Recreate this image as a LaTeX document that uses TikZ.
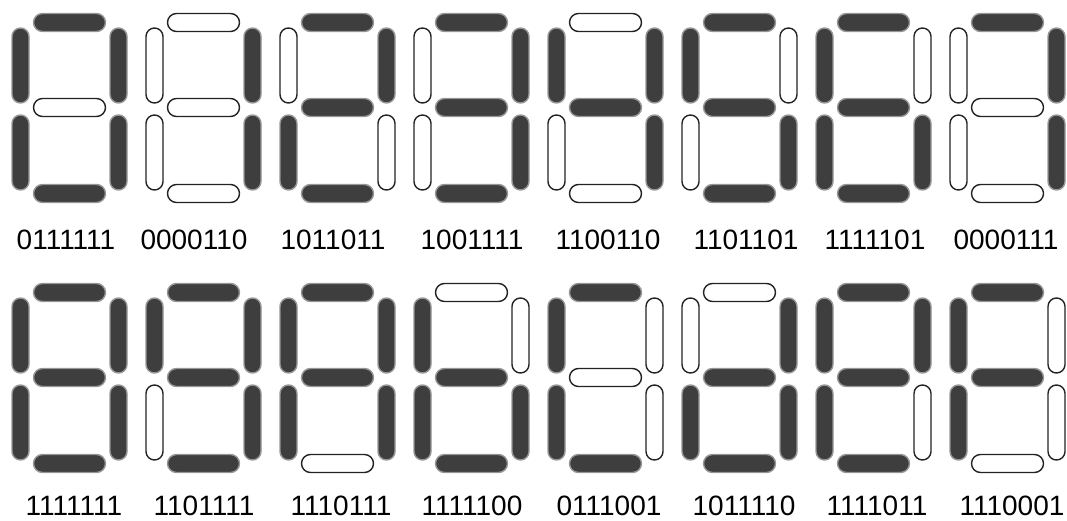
\documentclass[tikz,border=0pt]{standalone}
\usepackage{fontspec}
\setmainfont{Liberation Sans}
\usetikzlibrary{shapes.misc}
\definecolor{segdark}{RGB}{62,62,62}
\definecolor{seggray}{RGB}{150,150,150}
\definecolor{segline}{RGB}{35,35,35}
\newcommand\labelfont{\fontsize{28}{31}\selectfont}
\tikzset{
  seg/.style={rounded rectangle, inner sep=0pt, outer sep=0pt, line width=1.4pt},
  segh/.style={seg, minimum width=72pt, minimum height=18pt},
  segv/.style={seg, rotate=90, minimum width=75pt, minimum height=17pt},
  segon/.style={fill=segdark, draw=seggray},
  segoff/.style={fill=white, draw=segline},
  bit1/.style={segon},
  bit0/.style={segoff},
  lbl/.style={font=\labelfont, inner sep=0pt, anchor=base, text=black}
}
\newcommand\digitdraw[4]{%
  \def\dgname{#1}\def\dgx{#2}\def\dgy{#3}%
  \dgparse#4\relax}
\def\dgparse#1#2#3#4#5#6#7\relax{%
  \node[segh, bit#7] (\dgname-a) at (\dgx, \dgy) {};
  \node[segv, bit#6] (\dgname-b) at (\dgx+49, \dgy+43) {};
  \node[segv, bit#5] (\dgname-c) at (\dgx+49, \dgy+130) {};
  \node[segh, bit#4] (\dgname-d) at (\dgx, \dgy+171) {};
  \node[segv, bit#3] (\dgname-e) at (\dgx-49, \dgy+130) {};
  \node[segv, bit#2] (\dgname-f) at (\dgx-49, \dgy+43) {};
  \node[segh, bit#1] (\dgname-g) at (\dgx, \dgy+85) {};
}
\begin{document}
\begin{tikzpicture}[x=1pt, y=-1pt]
\useasboundingbox (0,0) rectangle (1067,521);
% row 1
\digitdraw{d0}{69.5}{22.5}{0111111}
\digitdraw{d1}{203.5}{22.5}{0000110}
\digitdraw{d2}{337.5}{22.5}{1011011}
\digitdraw{d3}{471.5}{22.5}{1001111}
\digitdraw{d4}{605.5}{22.5}{1100110}
\digitdraw{d5}{739.5}{22.5}{1101101}
\digitdraw{d6}{873.5}{22.5}{1111101}
\digitdraw{d7}{1007.5}{22.5}{0000111}
% row 2
\digitdraw{d8}{69.5}{292.5}{1111111}
\digitdraw{d9}{203.5}{292.5}{1101111}
\digitdraw{dA}{337.5}{292.5}{1110111}
\digitdraw{dB}{471.5}{292.5}{1111100}
\digitdraw{dC}{605.5}{292.5}{0111001}
\digitdraw{dD}{739.5}{292.5}{1011110}
\digitdraw{dE}{873.5}{292.5}{1111011}
\digitdraw{dF}{1007.5}{292.5}{1110001}
% labels
\node[lbl] (l0) at (66,250) {0111111};
\node[lbl] (l1) at (194,250) {0000110};
\node[lbl] (l2) at (333,250) {1011011};
\node[lbl] (l3) at (472,250) {1001111};
\node[lbl] (l4) at (608,250) {1100110};
\node[lbl] (l5) at (746,250) {1101101};
\node[lbl] (l6) at (875,250) {1111101};
\node[lbl] (l7) at (1006,250) {0000111};
\node[lbl] (l8) at (74,515) {1111111};
\node[lbl] (l9) at (204,515) {1101111};
\node[lbl] (lA) at (341,515) {1110111};
\node[lbl] (lB) at (472,515) {1111100};
\node[lbl] (lC) at (609,515) {0111001};
\node[lbl] (lD) at (744,515) {1011110};
\node[lbl] (lE) at (877,515) {1111011};
\node[lbl] (lF) at (1012,515) {1110001};
\end{tikzpicture}
\end{document}
